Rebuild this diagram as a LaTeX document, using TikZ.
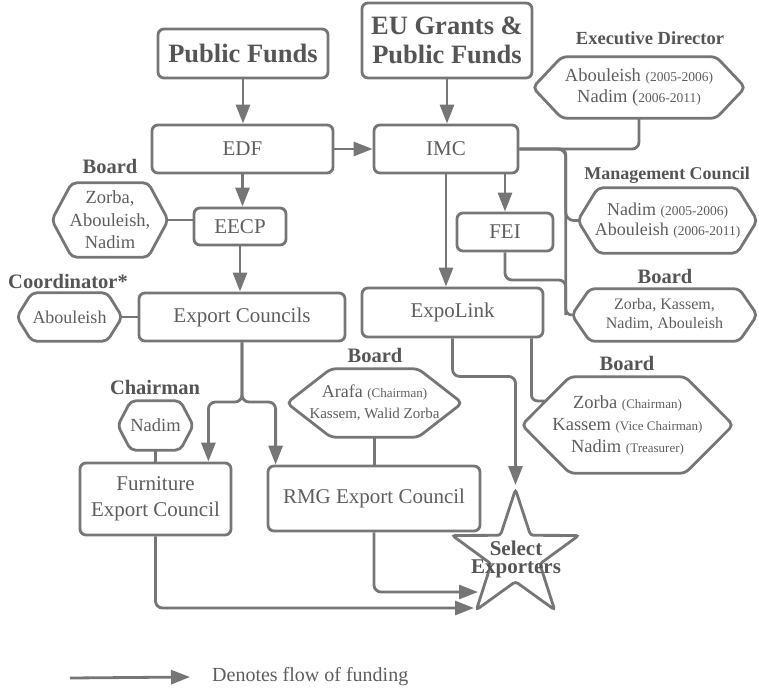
\documentclass[tikz,border=0pt]{standalone}
\usepackage{fontspec}
\setmainfont{Liberation Serif}
\usetikzlibrary{arrows.meta,calc,shapes.geometric}
\definecolor{linegray}{HTML}{767676}
\definecolor{textgray}{HTML}{5E5E5E}
\definecolor{headgray}{HTML}{555555}
\newcommand{\yearsz}{\fontsize{13.5}{21}\selectfont}
\newcommand{\rolesz}{\fontsize{13}{22}\selectfont}
% hexagon outline around a named node: #1 node name, #2 horizontal depth of the points
\newcommand{\hexdraw}[2]{%
  \draw[hexline] (#1.north) -- ([xshift=-#2pt]#1.north east) -- (#1.east)
    -- ([xshift=-#2pt]#1.south east) -- ([xshift=#2pt]#1.south west)
    -- (#1.west) -- ([xshift=#2pt]#1.north west) -- cycle;}

\begin{document}
\begin{tikzpicture}[x=1pt,y=-1pt,
  box/.style={draw=linegray, line width=2.8pt, rounded corners=6pt, text=textgray,
    font=\fontsize{21}{26}\selectfont, inner sep=0pt, align=center},
  titlebox/.style={box, font=\bfseries\fontsize{26.5}{29}\selectfont, text=headgray},
  hexnode/.style={inner sep=0pt, align=center, text=textgray},
  hexline/.style={draw=linegray, line width=2.8pt, rounded corners=5pt},
  role/.style={font=\bfseries\fontsize{20.5}{24}\selectfont, text=headgray, inner sep=0pt},
  conn/.style={draw=linegray, line width=2.8pt},
  flow/.style={conn, -{Triangle[length=19pt,width=14pt]}},
]
\useasboundingbox (0,0) rectangle (759,687);

% funding sources and agencies
\node[titlebox, minimum width=170pt, minimum height=49pt] (pf) at (243,53.5) {Public Funds};
\node[titlebox, minimum width=170pt, minimum height=75pt] (eu) at (447,40.5) {EU Grants \&\\Public Funds};
\node[box, minimum width=181pt, minimum height=48pt] (edf) at (242.5,149) {EDF};
\node[box, minimum width=144pt, minimum height=48pt] (imc) at (446,149) {IMC};
\node[box, minimum width=92pt, minimum height=37pt] (eecp) at (240,226.5) {EECP};
\node[box, minimum width=96pt, minimum height=38pt] (fei) at (505,232) {FEI};
\node[box, minimum width=206pt, minimum height=48pt] (ec) at (242,317) {Export Councils};
\node[box, minimum width=181pt, minimum height=49pt] (expo) at (452.5,312.5) {ExpoLink};
\node[box, minimum width=151pt, minimum height=72pt] (furn) at (155.5,499) {Furniture\\Export Council};
\node[box, minimum width=212pt, minimum height=65pt] (rmg) at (374,498.5) {RMG Export Council};

% people
\node[hexnode, minimum width=212pt, minimum height=61pt, font=\fontsize{18.5}{21}\selectfont] (hxed) at (639,87.5)
  {Abouleish {\yearsz (2005-2006)}\\Nadim ({\yearsz 2006-2011)}};
\node[hexnode, minimum width=179pt, minimum height=65pt, font=\fontsize{18}{20}\selectfont] (hxmc) at (667.5,220.5)
  {Nadim {\yearsz (2005-2006)}\\Abouleish {\yearsz (2006-2011)}};
\node[hexnode, minimum width=116pt, minimum height=74pt, font=\fontsize{18.5}{22.5}\selectfont] (hxb1) at (110,220)
  {Zorba,\\Abouleish,\\Nadim};
\node[hexnode, minimum width=105pt, minimum height=48pt, font=\fontsize{18}{21}\selectfont] (hxco) at (69.5,317) {Abouleish};
\node[hexnode, minimum width=75pt, minimum height=49pt, font=\fontsize{18.5}{21}\selectfont] (hxch) at (155.5,425.5) {Nadim};
\node[hexnode, minimum width=175pt, minimum height=68pt, font=\fontsize{18}{21}\selectfont] (hxb2) at (374.5,403)
  {Arafa {\fontsize{13}{21}\selectfont (Chairman)}\\{\fontsize{15}{21}\selectfont Kassem, Walid Zorba}};
\node[hexnode, minimum width=185pt, minimum height=52pt, font=\fontsize{16}{19}\selectfont] (hxb3) at (664.5,315)
  {Zorba, Kassem,\\Nadim, Abouleish};
\node[hexnode, minimum width=211pt, minimum height=96pt, font=\fontsize{18.5}{22}\selectfont] (hxb4) at (627.5,425)
  {Zorba {\rolesz (Chairman)}\\Kassem {\rolesz (Vice Chairman)}\\Nadim {\rolesz (Treasurer)}};
\hexdraw{hxed}{29}
\hexdraw{hxmc}{20}
\hexdraw{hxb1}{20}
\hexdraw{hxco}{15}
\hexdraw{hxch}{13}
\hexdraw{hxb2}{44}
\hexdraw{hxb3}{18}
\hexdraw{hxb4}{48}

% role headings
\node[role, font=\bfseries\fontsize{18.5}{22}\selectfont] (lbled) at (650,38) {Executive Director};
\node[role, font=\bfseries\fontsize{18}{22}\selectfont] (lblmc) at (667,175) {Management Council};
\node[role] (lblb1) at (110,166) {Board};
\node[role] (lblco) at (68,281) {Coordinator*};
\node[role] (lblch) at (155,387) {Chairman};
\node[role] (lblb2) at (375,355) {Board};
\node[role] (lblb3) at (665,276) {Board};
\node[role] (lblb4) at (627,363) {Board};

% recipients
\node[star, star points=5, star point ratio=2.6, minimum size=133pt, inner sep=0pt,
  draw=linegray, line width=2.8pt, rounded corners=3pt] (star) at (515.5,556) {};
\node[font=\bfseries\fontsize{21}{18.5}\selectfont, text=headgray, align=center, inner sep=0pt] (starlbl) at (516,559.5)
  {Select\\Exporters};

% flows of funding
\draw[flow] (pf.south) -- (pf.south |- edf.north);
\draw[flow] (eu.south) -- (eu.south |- imc.north);
\draw[flow] (edf.east) -- (imc.west);
\draw[flow] (edf.south) -- (edf.south |- eecp.north);
\draw[flow] (eecp.south) -- (eecp.south |- ec.north);
\coordinate (split) at (242,402);
\draw[flow, rounded corners=7pt] (ec.south) -- (split) -| ($(furn.north east)+(-24,0)$);
\draw[flow, rounded corners=7pt] (ec.south) -- (split) -| ($(rmg.north west)+(9,0)$);
\coordinate (starin1) at (478,592);
\coordinate (starin2) at (474,608);
\draw[flow, rounded corners=7pt] (rmg.south) |- (starin1);
\draw[flow, rounded corners=7pt] (furn.south) |- (starin2);
\draw[flow] (imc.south) -- (imc.south |- expo.north);
\draw[flow] (fei.north |- imc.south) -- (fei.north);
\draw[flow, rounded corners=7pt] (expo.south) -- ++(0,38) -| (star.north);

% governance links
\draw[conn] (hxb1.east) -- (hxb1.east -| eecp.west);
\draw[conn] (hxco.east) -- (hxco.east -| ec.west);
\draw[conn] (hxch.south) -- (hxch.south |- furn.north);
\draw[conn] (hxb2.south) -- (hxb2.south |- rmg.north);
\draw[conn, rounded corners=7pt] (imc.east) -| (hxed.south);
\draw[conn, rounded corners=8pt] (imc.east) -| ($(hxmc.west)+(-12,0)$) -- (hxmc.west);
\draw[conn, rounded corners=6pt] (imc.east) -| ($(hxb3.west)+(-6,0)$) -- (hxb3.west);
\draw[conn, rounded corners=7pt] (fei.south) |- ($(hxb3.west)+(-6,-35)$) -- ($(hxb3.west)+(-6,0)$);
\coordinate (b4in) at ($(hxb4.west)!0.5!([xshift=48pt]hxb4.north west)$);
\draw[conn, rounded corners=6pt] ($(expo.south east)+(-13,0)$) |- (b4in);

% legend
\coordinate (legstart) at (70,678);
\node[anchor=west, text=textgray, font=\fontsize{20}{24}\selectfont, inner sep=0pt] (legtext) at (212,677) {Denotes flow of funding};
\draw[flow] (legstart) -- ([xshift=-22pt]legtext.west);
\end{tikzpicture}
\end{document}
